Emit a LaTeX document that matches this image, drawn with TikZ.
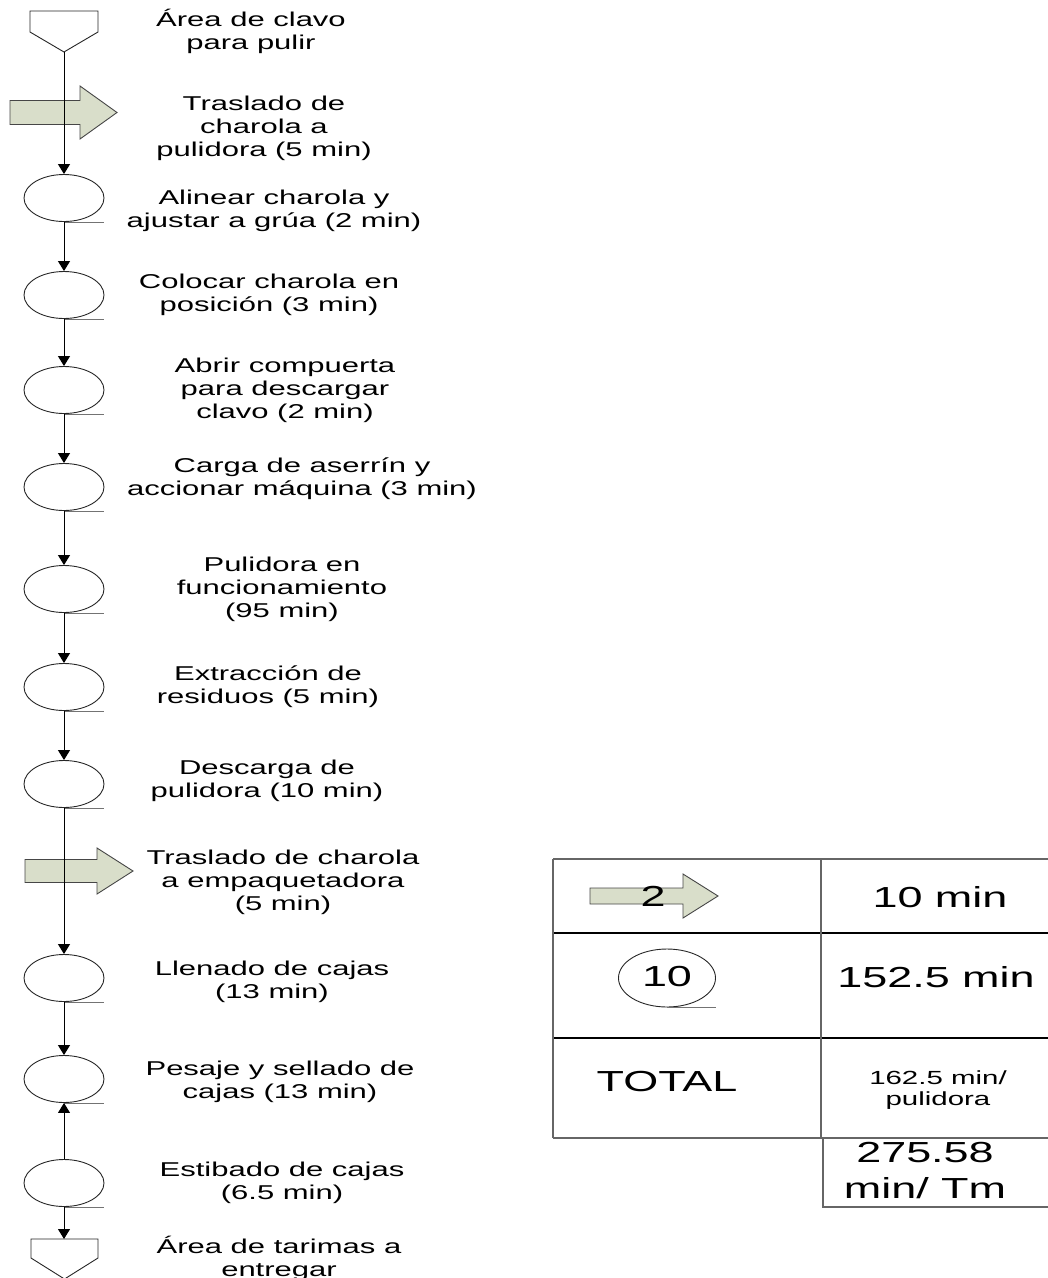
\documentclass[tikz,border=0pt]{standalone}
\usepackage{fontspec}
\setmainfont{Liberation Sans}[FakeStretch=1.55]
\usetikzlibrary{shapes.geometric,arrows.meta}

\definecolor{arrowfill}{RGB}{217,222,202}
\definecolor{arrowedge}{RGB}{70,70,70}

\newcommand\flowfont{\fontsize{20}{23}\selectfont}
\newcommand\cellfont{\fontsize{29}{36}\selectfont}
\newcommand\smallcellfont{\fontsize{19}{21}\selectfont}

\begin{document}
\begin{tikzpicture}[x=1pt,y=-1pt,
  opnode/.style={ellipse,draw=black!85,line width=0.9pt,minimum width=80pt,minimum height=47pt,inner sep=0pt},
  underl/.style={draw=black!55,line width=0.9pt},
  flowtext/.style={font=\flowfont,align=center,inner sep=0pt},
  flowline/.style={draw=black,line width=1pt,-{Triangle[width=12pt,length=10pt]}},
  blockarrow/.style={draw=arrowedge,fill=arrowfill,line width=0.9pt,line join=miter},
  endpoint/.style={draw=black!85,fill=white,line width=0.9pt},
  gridv/.style={draw=black!60,line width=1.2pt},
  gridh/.style={draw=black,line width=1.2pt},
]
\useasboundingbox (0,0) rectangle (1048,1278);

% ---- transport arrows (drawn beneath the flow line)
\draw[blockarrow] (10,100.5) -- (80,100.5) -- (80,86) -- (117,112.5) -- (80,139) -- (80,124.5) -- (10,124.5) -- cycle;
\draw[blockarrow] (25,859.5) -- (97,859.5) -- (97,848) -- (133,871) -- (97,894) -- (97,882.5) -- (25,882.5) -- cycle;

% ---- start and end storage symbols
\draw[endpoint] (30,11) -- (98,11) -- (98,32) -- (64,52) -- (30,32) -- cycle;
\coordinate (start) at (64,52);
\draw[endpoint] (31,1239) -- (98,1239) -- (98,1258) -- (64.5,1279) -- (31,1258) -- cycle;
\coordinate (finish) at (64,1239);

% ---- operations
\foreach \name/\y in {e1/198,e2/295,e3/390,e4/487,e5/589,e6/687,e7/784,e8/978,e9/1079,e10/1183}{
  \node[opnode] (\name) at (64,\y) {};
  \draw[underl] (\name.south) -- ++(40,0);
}

% ---- flow connections
\draw[flowline] (start) -- (e1.north);
\draw[flowline] (e1.south) -- (e2.north);
\draw[flowline] (e2.south) -- (e3.north);
\draw[flowline] (e3.south) -- (e4.north);
\draw[flowline] (e4.south) -- (e5.north);
\draw[flowline] (e5.south) -- (e6.north);
\draw[flowline] (e6.south) -- (e7.north);
\draw[flowline] (e7.south) -- (e8.north);
\draw[flowline] (e8.south) -- (e9.north);
\draw[flowline] (e10.north) -- (e9.south);
\draw[flowline] (e10.south) -- (finish);

% ---- step descriptions
\node[flowtext] (t0)  at (251,31)   {Área de clavo\\para pulir};
\node[flowtext] (t1)  at (264,128)  {Traslado de\\charola a\\pulidora (5 min)};
\node[flowtext] (t2)  at (274,211)  {Alinear charola y\\ajustar a grúa (2 min)};
\node[flowtext] (t3)  at (269,295)  {Colocar charola en\\posición (3 min)};
\node[flowtext] (t4)  at (285,390)  {Abrir compuerta\\para descargar\\clavo (2 min)};
\node[flowtext] (t5)  at (302,479)  {Carga de aserrín y\\accionar máquina (3 min)};
\node[flowtext] (t6)  at (282,589)  {Pulidora en\\funcionamiento\\(95 min)};
\node[flowtext] (t7)  at (268,687)  {Extracción de\\residuos (5 min)};
\node[flowtext] (t8)  at (267,781)  {Descarga de\\pulidora (10 min)};
\node[flowtext] (t9)  at (283,882)  {Traslado de charola\\a empaquetadora\\(5 min)};
\node[flowtext] (t10) at (272,982)  {Llenado de cajas\\(13 min)};
\node[flowtext] (t11) at (280,1082) {Pesaje y sellado de\\cajas (13 min)};
\node[flowtext] (t12) at (282,1183) {Estibado de cajas\\(6.5 min)};
\node[flowtext] (t13) at (279,1258) {Área de tarimas a\\entregar};

% ---- summary table
\draw[gridv] (553,859) -- (1048,859);
\draw[gridh] (553,933) -- (1048,933);
\draw[gridh] (553,1038) -- (1048,1038);
\draw[gridv] (553,1138) -- (1048,1138);
\draw[gridv] (553,859) -- (553,1138);
\draw[gridv] (821,859) -- (821,1138);
\draw[gridv] (823,1138) -- (823,1207) -- (1048,1207);

% transport symbol with its count
\draw[blockarrow] (590,888) -- (683,888) -- (683,874) -- (718,896) -- (683,918) -- (683,904) -- (590,904) -- cycle;
\node[font=\cellfont,inner sep=0pt] (ntr) at (653,896) {2};
% operation symbol with its count
\node[opnode,minimum width=97pt,minimum height=58pt] (top) at (667,978) {};
\draw[underl] (top.south) -- ++(49,0);
\node[font=\cellfont,inner sep=0pt] (nop) at (667,977) {10};

\node[font=\cellfont,inner sep=0pt] (ttr) at (940,897) {10 min};
\node[font=\cellfont,inner sep=0pt] (top2) at (936,977) {152.5 min};
\node[font=\cellfont,inner sep=0pt] (ltot) at (667,1082) {TOTAL};
\node[font=\smallcellfont,align=center,inner sep=0pt] (ttot) at (938,1090) {162.5 min/\\pulidora};
\node[font=\cellfont,align=center,inner sep=0pt] (ttm) at (925,1171) {275.58\\min/ Tm};
\end{tikzpicture}
\end{document}
